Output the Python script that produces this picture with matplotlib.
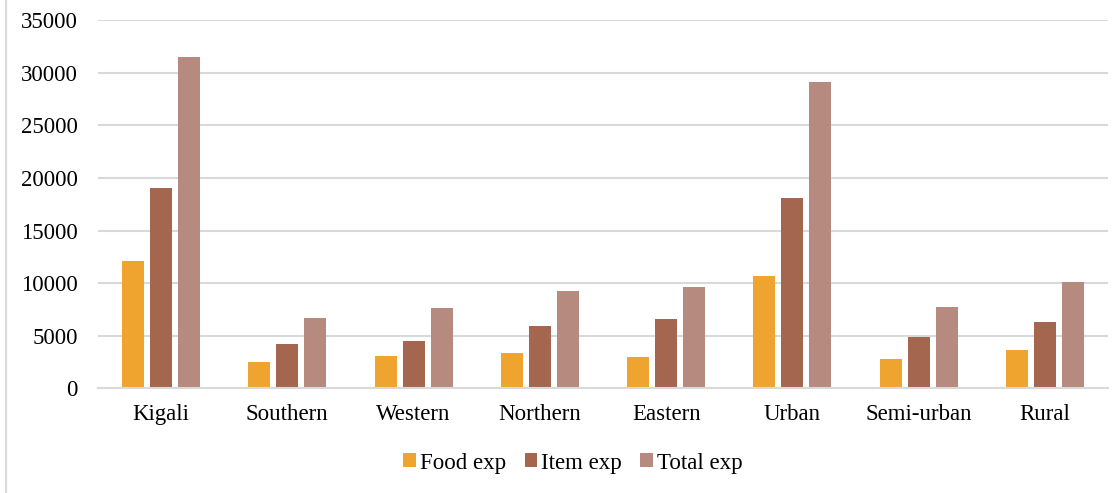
import numpy as np
import matplotlib
matplotlib.use("Agg")
import matplotlib.pyplot as plt
from matplotlib.lines import Line2D

# Household expenditure by region / area type
regions = ["Kigali", "Southern", "Western", "Northern", "Eastern",
           "Urban", "Semi-urban", "Rural"]
food_exp = [12100, 2470, 3040, 3360, 2980, 10700, 2820, 3640]
item_exp = [19050, 4210, 4530, 5950, 6590, 18120, 4900, 6330]
total_exp = [31520, 6650, 7600, 9250, 9600, 29090, 7730, 10080]

series = [("Food exp", food_exp, "#EFA430"),
          ("Item exp", item_exp, "#A5664F"),
          ("Total exp", total_exp, "#B68A7E")]

plt.rcParams['font.family'] = ['Liberation Serif', 'DejaVu Serif']

fig = plt.figure(figsize=(11.12, 4.93), dpi=100)
ax = fig.add_axes([0.088, 0.212, 0.9085, 0.7474])

x = np.arange(len(regions))
width = 0.174
step = 0.222
for i, (name, vals, col) in enumerate(series):
    ax.bar(x + (i - 1) * step, vals, width, color=col, label=name, zorder=3)

ax.set_xlim(-0.5, len(regions) - 0.5)
ax.set_ylim(0, 35000)
ax.set_yticks(np.arange(0, 35001, 5000))
ax.set_xticks(x)
ax.set_xticklabels(regions)
ax.yaxis.grid(True, color="#d9d9d9", linewidth=1.5, zorder=0)
for s in ["top", "right", "left"]:
    ax.spines[s].set_visible(False)
ax.spines["bottom"].set_color("#d9d9d9")
ax.spines["bottom"].set_linewidth(1.5)
ax.spines["bottom"].set_zorder(4)
ax.tick_params(axis="both", length=0, labelsize=16.5, colors="black")
ax.tick_params(axis="y", pad=14.5)
ax.tick_params(axis="x", pad=11)

handles, labels = ax.get_legend_handles_labels()
fig.legend(handles, labels, loc="center", bbox_to_anchor=(573 / 1112, 1 - 463 / 493),
           ncol=3, frameon=False, fontsize=16.5, handlelength=0.55, handleheight=0.55,
           handletextpad=0.18, columnspacing=0.8)

# chart frame edge on the left
fig.add_artist(Line2D([6 / 1112, 6 / 1112], [0, 1], color="#d9d9d9", linewidth=1.5))

fig.savefig("out.png", dpi=100)
